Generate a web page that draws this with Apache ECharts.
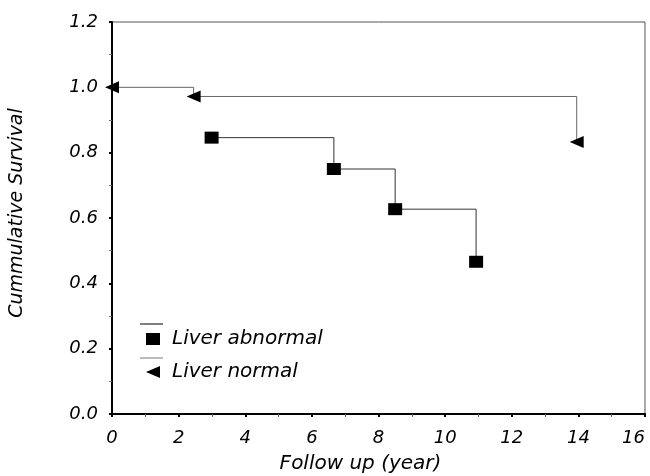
<!DOCTYPE html>
<html>
<head>
<meta charset="utf-8">
<script src="https://cdn.jsdelivr.net/npm/echarts@6/dist/echarts.min.js"></script>
<style>
html,body{margin:0;padding:0;background:#fff;}
#chart_panel{width:650px;height:476px;}
</style>
</head>
<body>
<div id="chart_panel"></div>
<script>
// survival curve data (follow-up year, cumulative survival)
var abnormalYears = [2.99, 6.66, 8.5, 10.93];
var abnormalSurv = [0.846, 0.75, 0.627, 0.466];
var normalYears = [0, 2.45, 13.95];
var normalSurv = [1.0, 0.972, 0.833];
var xTicks = [0, 2, 4, 6, 8, 10, 12, 14, 16];
var yTicks = [0.0, 0.2, 0.4, 0.6, 0.8, 1.0, 1.2];
var seriesNames = ['Liver abnormal', 'Liver normal'];

var fontName = 'DejaVu Sans';
var triPath = 'path://M0,6L14,0L14,12Z';

function toPairs(xs, ys){
	var out = [];
	for(var i=0; i<xs.length; i++){
		out.push([xs[i], ys[i]]);
	}
	return out;
}

var myChart = echarts.init(document.getElementById('chart_panel'));

var option = {
	animation: false,
	backgroundColor: '#fff',
	grid: {
		left: 112, right: 5, top: 22, bottom: 62,
		outerBoundsMode: 'none',
		show: true, borderColor: '#555', borderWidth: 1
	},
	legend: {
		orient: 'vertical',
		left: 146, top: 328, padding: 0,
		itemWidth: 14, itemHeight: 12, itemGap: 11,
		textStyle: {fontFamily: fontName, fontStyle: 'italic', fontSize: 20, color: '#000',
			lineHeight: 22, padding: [0, 0, 0, 7]},
		data: [
			{name: seriesNames[0], icon: 'rect'},
			{name: seriesNames[1], icon: triPath}
		]
	},
	xAxis: {
		type: 'value', min: xTicks[0], max: xTicks[xTicks.length-1], interval: 2,
		axisLine: {lineStyle: {color: '#000', width: 2}},
		axisTick: {length: 3, lineStyle: {color: '#000', width: 2}},
		minorTick: {show: true, splitNumber: 2, length: 3, lineStyle: {color: '#666', width: 1}},
		splitLine: {show: false},
		axisLabel: {fontFamily: fontName, fontStyle: 'italic', fontSize: 18, color: '#000', margin: 15,
			alignMaxLabel: 'right'},
		name: 'Follow up (year)', nameLocation: 'middle', nameGap: 40,
		nameTextStyle: {fontFamily: fontName, fontStyle: 'italic', fontSize: 20, color: '#000', padding: [0, 36, 0, 0]}
	},
	yAxis: {
		type: 'value', min: yTicks[0], max: yTicks[yTicks.length-1], interval: 0.2,
		axisLine: {show: true, lineStyle: {color: '#000', width: 2}},
		axisTick: {show: true, length: 3, lineStyle: {color: '#000', width: 2}},
		minorTick: {show: true, splitNumber: 2, length: 3, lineStyle: {color: '#666', width: 1}},
		splitLine: {show: false},
		axisLabel: {fontFamily: fontName, fontStyle: 'italic', fontSize: 18, color: '#000', margin: 14,
			formatter: function(v){ return v.toFixed(1); }}
	},
	graphic: [
		{type: 'line', shape: {x1: 140, y1: 324, x2: 163, y2: 324}, style: {stroke: '#000', lineWidth: 1}},
		{type: 'line', shape: {x1: 140, y1: 358, x2: 163, y2: 358}, style: {stroke: '#777', lineWidth: 1}},
		{type: 'text', x: 17, y: 213, rotation: Math.PI/2,
			style: {text: 'Cummulative Survival', fontFamily: fontName, fontStyle: 'italic', fontSize: 19,
				fill: '#000', align: 'center', verticalAlign: 'middle'}}
	],
	series: [
		{
			name: seriesNames[0], type: 'line', step: 'end',
			data: toPairs(abnormalYears, abnormalSurv),
			symbol: 'rect', symbolSize: [14, 12],
			itemStyle: {color: '#000'},
			lineStyle: {color: '#333', width: 1}
		},
		{
			name: seriesNames[1], type: 'line', step: 'end',
			data: toPairs(normalYears, normalSurv),
			symbol: triPath, symbolSize: [14, 12],
			itemStyle: {color: '#000'},
			lineStyle: {color: '#666', width: 1}
		}
	]
};

myChart.setOption(option);
window.onresize = myChart.resize;
</script>
</body>
</html>
